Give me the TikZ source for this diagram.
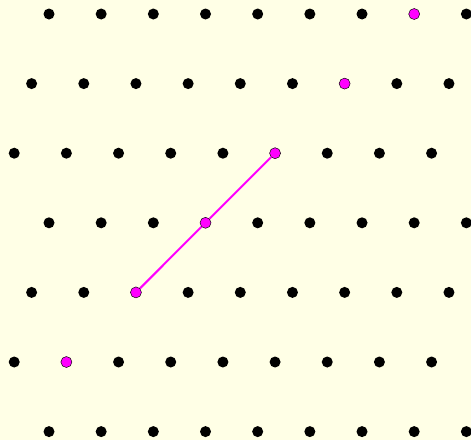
\documentclass[tikz,border=0pt]{standalone}
\usetikzlibrary{calc}
\definecolor{paper}{RGB}{255,255,230}
\definecolor{hilite}{RGB}{255,0,255}

\begin{document}
\begin{tikzpicture}[x=0.03cm, y=-0.03cm,
    dot/.style={circle, fill=black, inner sep=0pt, minimum size=0.33cm},
    mark dot/.style={dot, fill=hilite, draw=black, line width=0.4pt},
    link/.style={hilite, line width=1.7pt}
  ]
    \fill[paper] (0,0) rectangle (471,440);
    \useasboundingbox (0,0) rectangle (471,440);
    \clip (0,0) rectangle (471,440);

    % lattice rows, each shifted left by a third of the spacing
    \foreach \r/\m in {0/7,1/6,2/5,3/3,4/2,5/1,6/-1} {
      \pgfmathsetmacro{\off}{49-17.39*mod(\r,3)}
      \foreach \c in {0,...,8} {
        \ifnum\c=\m
          \node[mark dot] (p-\r-\c) at ({\off+52.17*\c},{14+69.6*\r}) {};
        \else
          \node[dot] (p-\r-\c) at ({\off+52.17*\c},{14+69.6*\r}) {};
        \fi
      }
    }

    \draw[link] (p-4-2) -- (p-3-3) -- (p-2-5);
  \end{tikzpicture}
\end{document}
